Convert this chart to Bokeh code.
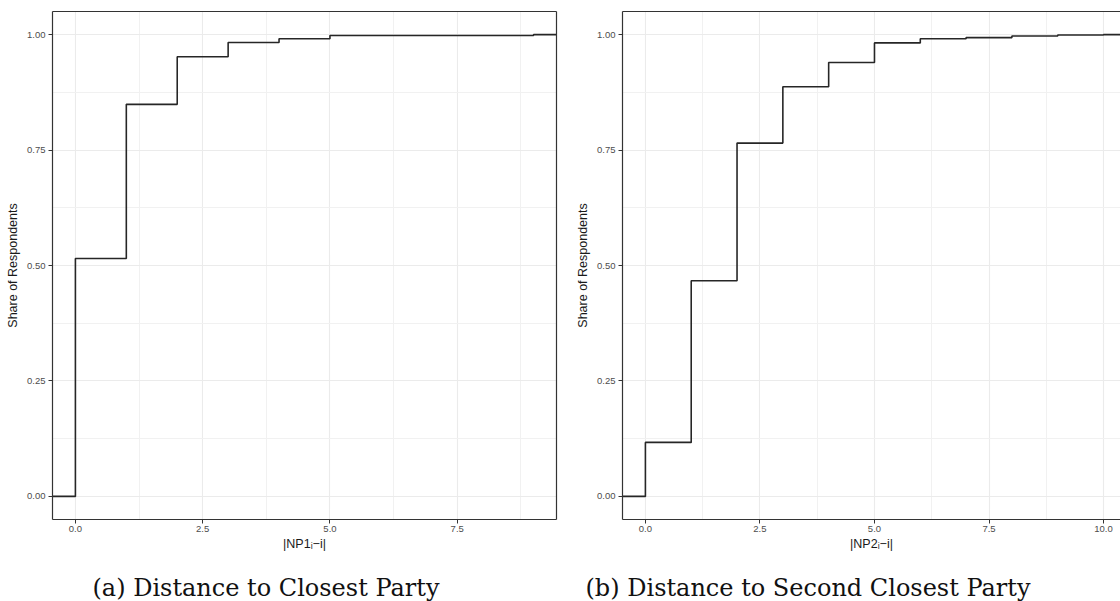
from bokeh.plotting import figure
from bokeh.layouts import row, column
from bokeh.models import Range1d, FixedTicker, NumeralTickFormatter, LinearAxis, Label
from bokeh.embed import file_html
from bokeh.resources import INLINE

# ---- data ----
dist1 = [0, 1, 2, 3, 4, 5, 6, 7, 8, 9]
share1 = [0.515, 0.849, 0.952, 0.983, 0.991, 0.998, 0.998, 0.998, 0.998, 1.0]

dist2 = [0, 1, 2, 3, 4, 5, 6, 7, 8, 9, 10]
share2 = [0.117, 0.467, 0.765, 0.887, 0.9395, 0.982, 0.991, 0.9935, 0.997, 0.999, 1.0]

x_ticks1 = [0, 2.5, 5, 7.5]
x_ticks2 = [0, 2.5, 5, 7.5, 10]
y_ticks = [0, 0.25, 0.5, 0.75, 1.0]

x_labels = ["|NP1ᵢ−i|", "|NP2ᵢ−i|"]
y_label = "Share of Respondents"
captions = ["(a) Distance to Closest Party", "(b) Distance to Second Closest Party"]

AX = "#333333"
GRID = "#EBEBEB"
MINOR = "#F1F1F1"
PLOT_H = 560
CAP_H = 41


def mids(t):
    return [(a + b) / 2 for a, b in zip(t[:-1], t[1:])]


def panel(xs, ys, xr, xticks, minor_x, xlabel, width, min_left, min_right, right_border):
    p = figure(width=width, height=PLOT_H, output_backend="svg", toolbar_location=None,
               x_range=Range1d(*xr), y_range=Range1d(-0.05, 1.05),
               min_border_left=min_left, min_border_right=min_right,
               min_border_top=11, min_border_bottom=41)
    p.outline_line_color = None
    p.background_fill_color = "white"
    p.border_fill_color = "white"

    # step line (ECDF), padded to the panel edges
    sx = [xr[0]] + xs + [xr[1]]
    sy = [0.0] + ys + [ys[-1]]
    p.step(sx, sy, mode="after", line_color="#262626", line_width=1.6)

    p.xaxis.ticker = FixedTicker(ticks=xticks, minor_ticks=minor_x)
    p.yaxis.ticker = FixedTicker(ticks=y_ticks, minor_ticks=mids(y_ticks))
    p.xaxis.formatter = NumeralTickFormatter(format="0.0")
    p.yaxis.formatter = NumeralTickFormatter(format="0.00")
    p.xaxis.axis_label = xlabel
    p.yaxis.axis_label = y_label

    for ax in (p.xaxis[0], p.yaxis[0]):
        ax.axis_line_color = AX
        ax.axis_line_width = 1.2
        ax.major_tick_line_color = AX
        ax.major_tick_out = 4
        ax.major_tick_in = 0
        ax.minor_tick_line_color = None
        ax.major_label_text_font = "Liberation Sans"
        ax.major_label_text_font_size = "9.5px"
        ax.major_label_text_color = "#4D4D4D"
        ax.major_label_standoff = 3
        ax.axis_label_text_font = "Liberation Sans"
        ax.axis_label_text_font_size = "12.5px"
        ax.axis_label_text_font_style = "normal"
        ax.axis_label_text_color = "#1A1A1A"
        ax.axis_label_standoff = 4
    p.xaxis[0].major_label_standoff = 2
    p.xaxis[0].axis_label_standoff = 2

    sides = ["above"] + (["right"] if right_border else [])
    for side in sides:
        b = LinearAxis(ticker=FixedTicker(ticks=[]), major_label_text_font_size="0px",
                       major_tick_out=0, major_tick_in=0, minor_tick_out=0,
                       minor_tick_in=0, axis_line_color=AX, axis_line_width=1.2,
                       major_label_standoff=0)
        p.add_layout(b, side)

    for g in (p.xgrid[0], p.ygrid[0]):
        g.grid_line_color = GRID
        g.grid_line_width = 1.1
        g.minor_grid_line_color = MINOR
        g.minor_grid_line_width = 1
    return p


def caption_box(text, width, x_px):
    c = figure(width=width, height=CAP_H, output_backend="svg", toolbar_location=None,
               x_axis_type=None, y_axis_type=None,
               x_range=Range1d(0, 1), y_range=Range1d(0, 1), min_border=0)
    c.outline_line_color = None
    c.background_fill_color = "white"
    c.border_fill_color = "white"
    c.add_layout(Label(x=x_px, y=14, x_units="screen", y_units="screen", text=text,
                       text_font="DejaVu Serif", text_font_size="24px",
                       text_color="#111111", text_baseline="alphabetic",
                       text_align="left"))
    return c


p1 = panel(dist1, share1, (-0.45, 9.45), x_ticks1, mids(x_ticks1 + [10]), x_labels[0],
           560, 52, 4, True)
p2 = panel(dist2, share2, (-0.5, 10.37), x_ticks2, mids(x_ticks2), x_labels[1],
           560, 62, 0, False)
c1 = caption_box(captions[0], 560, 92)
c2 = caption_box(captions[1], 560, 25)

layout = column(row(p1, p2), row(c1, c2))
open("out.html", "w").write(file_html(layout, INLINE))
